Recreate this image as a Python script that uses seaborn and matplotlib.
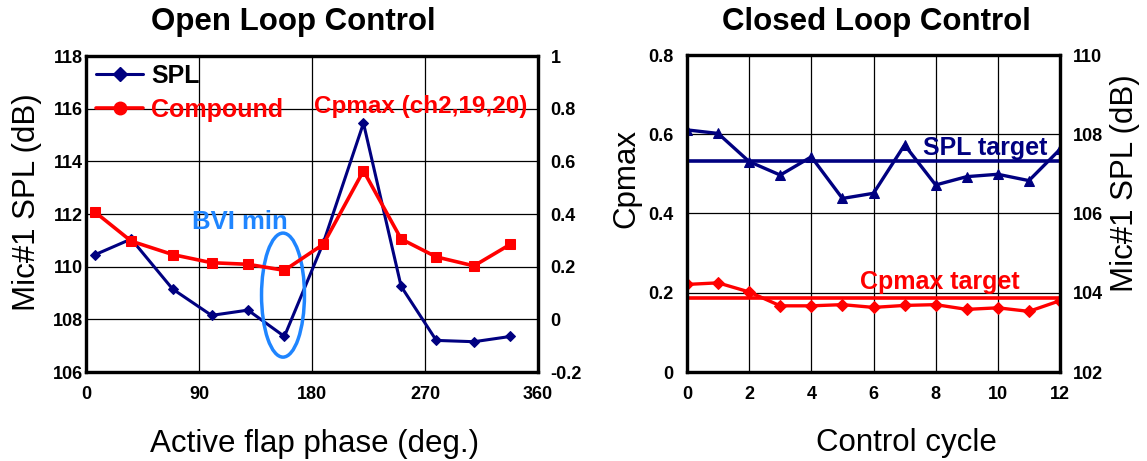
import numpy as np
import pandas as pd
import matplotlib
matplotlib.use("Agg")
import matplotlib.pyplot as plt
from matplotlib.lines import Line2D
from matplotlib.patches import Ellipse
import seaborn as sns

# open loop data
phase = [7, 36, 69, 100, 129, 158, 189, 221, 251, 279, 309, 338]
spl_open = [110.45, 111.05, 109.15, 108.15, 108.35, 107.35, 110.9, 115.45, 109.25, 107.2, 107.15, 107.35]
cpmax_open = [0.408, 0.297, 0.246, 0.215, 0.209, 0.186, 0.285, 0.564, 0.305, 0.237, 0.203, 0.285]

# closed loop data
cycle = [0, 1, 2, 3, 4, 5, 6, 7, 8, 9, 10, 11, 12]
cpmax_closed = [0.221, 0.225, 0.202, 0.167, 0.167, 0.170, 0.163, 0.168, 0.170, 0.158, 0.162, 0.153, 0.180]
spl_closed = [108.11, 108.02, 107.31, 106.97, 107.43, 106.38, 106.51, 107.73, 106.72, 106.93, 106.99, 106.83, 107.62]
spl_target = 107.33
cpmax_target = 0.187

# BVI min marker (center, width, height in data units)
bvi_center = (156.9, 108.92)
bvi_size = (34.2, 4.71)

navy = "#000080"
red = "#ff0000"
blue = "#1f85ff"

sns.set_style("white")
plt.rcParams['font.family'] = ['Liberation Sans', 'DejaVu Sans']
plt.rcParams['font.weight'] = 'bold'
plt.rcParams['text.color'] = 'black'
plt.rcParams['xtick.color'] = 'black'
plt.rcParams['ytick.color'] = 'black'
plt.rcParams['axes.labelcolor'] = 'black'

W, H = 1147, 461
fig = plt.figure(figsize=(W / 100, H / 100), dpi=100)
ax1 = fig.add_axes([86 / W, 1 - 372 / H, 452 / W, 316 / H])
ax2 = fig.add_axes([687 / W, 1 - 372 / H, 373 / W, 317 / H])

# ---- Open loop ----
ax1b = ax1.twinx()
sns.lineplot(x=phase, y=spl_open, ax=ax1, color=navy, marker='D', markersize=5,
             markeredgecolor=navy, linewidth=2.2)
sns.lineplot(x=phase, y=cpmax_open, ax=ax1b, color=red, marker='s', markersize=7,
             markeredgecolor=red, linewidth=2.6)
ax1.set_xlim(0, 360)
ax1.set_ylim(106, 118)
ax1b.set_ylim(-0.2, 1.0)
ax1.set_xticks([0, 90, 180, 270, 360])
ax1.set_yticks(np.arange(106, 119, 2))
ax1b.set_yticks([-0.2, 0, 0.2, 0.4, 0.6, 0.8, 1.0])
ax1b.set_yticklabels(['-0.2', '0', '0.2', '0.4', '0.6', '0.8', '1'])
ax1.grid(True, color='black', linewidth=0.9)
ax1.tick_params(axis='x', length=0, labelsize=13, pad=10)
ax1.tick_params(axis='y', length=0, labelsize=13, pad=2)
ax1b.tick_params(axis='y', length=0, labelsize=13, pad=9)

ax1b.add_patch(Ellipse(bvi_center, bvi_size[0], bvi_size[1], transform=ax1.transData,
                       fill=False, edgecolor=blue, linewidth=2.5))
ax1b.text((240 - 86) / 452, (372 - 222) / 316, "BVI min", transform=ax1.transAxes, color=blue,
          fontsize=18.5, ha='center', va='center')

handles = [Line2D([], [], color=navy, marker='D', markersize=7, linewidth=2.2),
           Line2D([], [], color=red, marker='o', markersize=9, linewidth=2.6)]
leg = ax1b.legend(handles, ['SPL', 'Compound'], loc='upper left',
                  bbox_to_anchor=(0.022, 0.975), borderaxespad=0, borderpad=0,
                  frameon=False, prop={'weight': 'bold', 'size': 18},
                  handlelength=1.9, handletextpad=0.3,
                  labelspacing=0.4, numpoints=1, labelcolor=['black', red])
ax1b.text((421 - 86) / 452, (372 - 107) / 316, "Cpmax (ch2,19,20)", transform=ax1.transAxes,
          color=red, fontsize=17.5, ha='center', va='center')

# ---- Closed loop ----
ax2b = ax2.twinx()
sns.lineplot(x=cycle, y=cpmax_closed, ax=ax2, color=red, marker='D', markersize=6,
             markeredgecolor=red, linewidth=2.4)
ax2.axhline(cpmax_target, color=red, linewidth=2.6)
sns.lineplot(x=cycle, y=spl_closed, ax=ax2b, color=navy, marker='^', markersize=7,
             markeredgecolor=navy, linewidth=2.4)
ax2b.axhline(spl_target, color=navy, linewidth=2.6)
ax2.set_xlim(0, 12)
ax2.set_ylim(0, 0.8)
ax2b.set_ylim(102, 110)
ax2.set_xticks(range(0, 13, 2))
ax2.set_yticks([0, 0.2, 0.4, 0.6, 0.8])
ax2.set_yticklabels(['0', '0.2', '0.4', '0.6', '0.8'])
ax2b.set_yticks(range(102, 111, 2))
ax2.grid(True, color='black', linewidth=0.9)
ax2.tick_params(axis='x', length=0, labelsize=13, pad=10)
ax2.tick_params(axis='y', length=0, labelsize=13, pad=10)
ax2b.tick_params(axis='y', length=0, labelsize=13, pad=9)
ax2b.text((985 - 687) / 373, (372 - 148) / 317, "SPL target", transform=ax2.transAxes,
          color=navy, fontsize=18, ha='center', va='center')
ax2b.text((940 - 687) / 373, (372 - 282) / 317, "Cpmax target", transform=ax2.transAxes,
          color=red, fontsize=18, ha='center', va='center')

for a in (ax1, ax1b, ax2, ax2b):
    a.set_xlabel('')
    a.set_ylabel('')
    for s in a.spines.values():
        s.set_visible(True)
        s.set_color('black')
        s.set_linewidth(2.3)

# titles and axis labels
fig.text(293 / W, 1 - 30 / H, "Open Loop Control", fontsize=22.5, ha='center', va='baseline')
fig.text(876 / W, 1 - 30 / H, "Closed Loop Control", fontsize=22.5, ha='center', va='baseline')
fig.text(315 / W, 1 - 452 / H, "Active flap phase (deg.)", fontsize=22.5, fontweight='normal',
         ha='center', va='baseline')
fig.text(906 / W, 1 - 451 / H, "Control cycle", fontsize=22.5, fontweight='normal',
         ha='center', va='baseline')
fig.text(27 / W, 1 - 202 / H, "Mic#1 SPL (dB)", fontsize=22.5, fontweight='normal',
         rotation=90, ha='center', va='center')
fig.text(626 / W, 1 - 178 / H, "Cpmax", fontsize=22.5, fontweight='normal',
         rotation=90, ha='center', va='center')
fig.text(1125 / W, 1 - 183 / H, "Mic#1 SPL (dB)", fontsize=22.5, fontweight='normal',
         rotation=90, ha='center', va='center')

fig.savefig("out.png", dpi=100)
